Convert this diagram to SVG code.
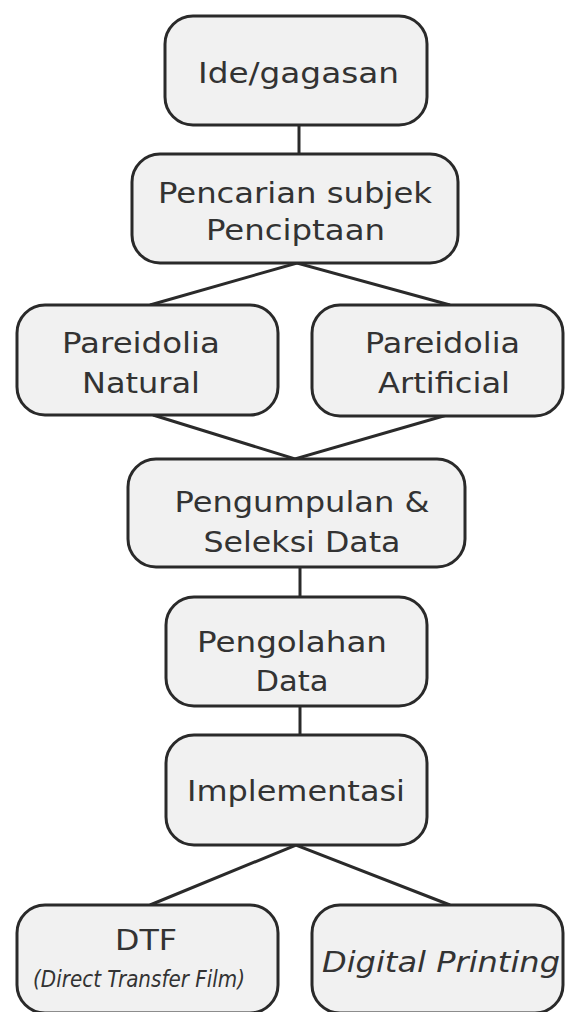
<svg xmlns="http://www.w3.org/2000/svg" width="566" height="1012" viewBox="0 0 566 1012">
<style>
.box{fill:#f1f1f1;stroke:#2a2a2a;stroke-width:3}
.ln{stroke:#2a2a2a;stroke-width:3;fill:none}
text{font-family:"DejaVu Sans","Noto Sans",sans-serif;font-size:28px;fill:#333;text-anchor:middle}
.it{font-style:italic}
.sm{font-size:23px;font-style:italic}
</style>
<rect width="566" height="1012" fill="#ffffff"/>
<g id="connectors">
<line class="ln" x1="299" y1="125" x2="299" y2="154"/>
<polyline class="ln" points="150,305 297,263 450,305"/>
<polyline class="ln" points="153,415 295,459 447,415"/>
<line class="ln" x1="300" y1="567" x2="300" y2="597"/>
<line class="ln" x1="300" y1="706" x2="300" y2="735"/>
<polyline class="ln" points="150,905 296,845 450,905"/>
</g>
<g id="n1"><rect class="box" x="165" y="16" width="262" height="109" rx="28"/><text x="298.5" y="83" textLength="201" lengthAdjust="spacingAndGlyphs">Ide/gagasan</text></g>
<g id="n2"><rect class="box" x="132" y="154" width="326" height="109" rx="28"/><text x="295" y="203" textLength="274" lengthAdjust="spacingAndGlyphs">Pencarian subjek</text><text x="295.5" y="240" textLength="179" lengthAdjust="spacingAndGlyphs">Penciptaan</text></g>
<g id="n3"><rect class="box" x="17" y="305" width="261" height="110" rx="28"/><text x="141" y="353" textLength="158" lengthAdjust="spacingAndGlyphs">Pareidolia</text><text x="141" y="393" textLength="118" lengthAdjust="spacingAndGlyphs">Natural</text></g>
<g id="n4"><rect class="box" x="312" y="305" width="251" height="111" rx="28"/><text x="442.5" y="353" textLength="155" lengthAdjust="spacingAndGlyphs">Pareidolia</text><text x="444" y="393" textLength="132" lengthAdjust="spacingAndGlyphs">Artificial</text></g>
<g id="n5"><rect class="box" x="128" y="459" width="337" height="108" rx="28"/><text x="302" y="512" textLength="255" lengthAdjust="spacingAndGlyphs">Pengumpulan &amp;</text><text x="302" y="552" textLength="197" lengthAdjust="spacingAndGlyphs">Seleksi Data</text></g>
<g id="n6"><rect class="box" x="166" y="597" width="261" height="109" rx="28"/><text x="292" y="652" textLength="190" lengthAdjust="spacingAndGlyphs">Pengolahan</text><text x="292" y="691" textLength="73" lengthAdjust="spacingAndGlyphs">Data</text></g>
<g id="n7"><rect class="box" x="166" y="735" width="261" height="110" rx="28"/><text x="296" y="801" textLength="218" lengthAdjust="spacingAndGlyphs">Implementasi</text></g>
<g id="n8"><rect class="box" x="17" y="905" width="261" height="108" rx="28"/><text x="146" y="950" textLength="62" lengthAdjust="spacingAndGlyphs">DTF</text><text class="sm" x="139" y="987" textLength="212" lengthAdjust="spacingAndGlyphs">(Direct Transfer Film)</text></g>
<g id="n9"><rect class="box" x="312" y="905" width="251" height="108" rx="28"/><text class="it" x="441" y="972" textLength="238" lengthAdjust="spacingAndGlyphs">Digital Printing</text></g>
</svg>
